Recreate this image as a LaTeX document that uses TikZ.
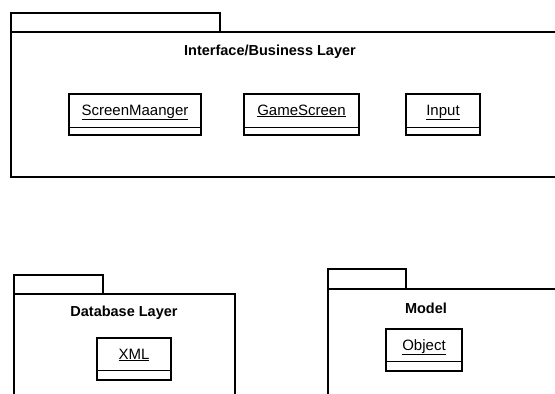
\documentclass[tikz,border=0pt]{standalone}
\usepackage{fontspec}
\setmainfont{Liberation Sans}
\usetikzlibrary{positioning,calc}
\tikzset{
  pkgline/.style={draw, line width=1.6pt},
  pkgtitle/.style={font=\bfseries\fontsize{14.5}{16}\selectfont, inner sep=0pt},
  clsbox/.style={draw, line width=1.8pt, inner sep=0pt},
  clsname/.style={font=\fontsize{15}{17}\selectfont, inner sep=0pt, anchor=base},
}
% class box: name, x, y (centre), width, height, compartment height, text
\newcommand{\umlclass}[7]{%
  \node[clsbox, minimum width=#4pt, minimum height=#5pt] (#1) at (#2,#3) {};
  \coordinate (#1-dl) at ([yshift=#6pt]#1.south west);
  \coordinate (#1-dr) at ([yshift=#6pt]#1.south east);
  \draw[line width=0.8pt] (#1-dl) -- (#1-dr);
  \node[clsname] (#1-name) at ([yshift=-22pt]#1.north) {\underline{#7}};
}
\begin{document}
\begin{tikzpicture}[x=1pt, y=-1pt]
\useasboundingbox (0,0) rectangle (555,394);
\clip (0,0) rectangle (555,394);
% Interface/Business Layer package
\draw[pkgline] (11,13) rectangle (220,32);
\draw[pkgline] (11,32) rectangle (600,177);
\node[pkgtitle] (ibl) at (270,52) {Interface/Business Layer};
\umlclass{screenmgr}{135}{114.5}{132}{41}{9}{ScreenMaanger}
\umlclass{gamescreen}{301.5}{114.5}{115}{41}{9}{GameScreen}
\umlclass{input}{443}{114.5}{74}{41}{9}{Input}
% Database Layer package
\draw[pkgline] (14,275) rectangle (103,294);
\draw[pkgline] (14,294) rectangle (235,420);
\node[pkgtitle] (dbl) at (124,313) {Database Layer};
\umlclass{xml}{134}{359}{74}{42}{11}{XML}
% Model package
\draw[pkgline] (328,269) rectangle (406,289);
\draw[pkgline] (328,289) rectangle (600,420);
\node[pkgtitle] (model) at (426,308) {Model};
\umlclass{object}{424}{350}{76}{42}{11}{Object}
\end{tikzpicture}
\end{document}
